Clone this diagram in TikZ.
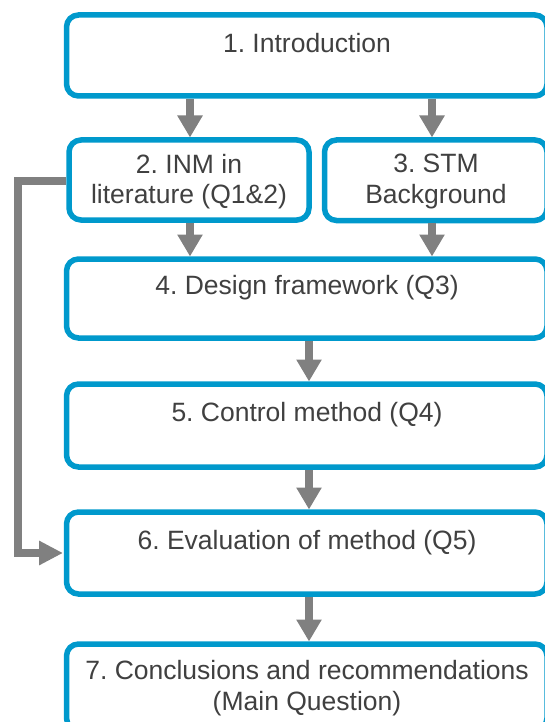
\documentclass[tikz,border=0pt]{standalone}
\usepackage{fontspec}
\setmainfont{Liberation Sans}
\usetikzlibrary{arrows.meta}
\frenchspacing
\definecolor{boxblue}{RGB}{0,153,204}
\definecolor{flowgray}{RGB}{128,128,128}
\definecolor{textgray}{RGB}{64,64,64}
\tikzset{
  stagebox/.style={draw=boxblue, line width=5.5pt, rounded corners=12pt,
    fill=white, inner sep=0pt, outer sep=0pt},
  stagetext/.style={text=textgray, align=center, inner sep=0pt,
    font=\fontsize{26.5pt}{30.5pt}\selectfont},
  flowarrow/.style={draw=flowgray, line width=8pt,
    -{Triangle[length=22pt,width=24pt]}, shorten <=2.75pt, shorten >=2.5pt},
  loopback/.style={draw=flowgray, line width=7.5pt,
    -{Triangle[length=24pt,width=23pt]}, shorten <=2.75pt, shorten >=3.5pt}
}
\begin{document}
\begin{tikzpicture}[x=1pt, y=-1pt]
\useasboundingbox (0,0) rectangle (544,722);

% stage boxes (coordinates of the border centre lines)
\node[stagebox, minimum width=480.5pt, minimum height=81pt] (b1) at (306.75,55.5) {};
\node[stagebox, minimum width=240pt,   minimum height=80pt] (b2) at (189,180) {};
\node[stagebox, minimum width=222.5pt, minimum height=80.5pt] (b3) at (435.75,180.25) {};
\node[stagebox, minimum width=480.5pt, minimum height=79pt] (b4) at (306.75,298.5) {};
\node[stagebox, minimum width=480.5pt, minimum height=83pt] (b5) at (306.75,425.5) {};
\node[stagebox, minimum width=480.5pt, minimum height=82pt] (b6) at (306.75,553) {};
\node[stagebox, minimum width=480.5pt, minimum height=86pt] (b7) at (306.75,687) {};

% stage titles
\node[stagetext] (t1) at (307,43)  {1. Introduction};
\node[stagetext] (t2) at (189,181.5) {2. INM in\\literature (Q1\&2)};
\node[stagetext] (t3) at (436,181.5) {3. STM\\Background};
\node[stagetext] (t4) at (307,288) {4. Design framework (Q3)};
\node[stagetext] (t5) at (307,415) {5. Control method (Q4)};
\node[stagetext] (t6) at (307,543) {6. Evaluation of method (Q5)};
\node[stagetext] (t7) at (307,688) {7. Conclusions and recommendations\\(Main Question)};

% flow between stages
\draw[flowarrow] (b1.south -| 190,0) -- (b2.north -| 190,0);
\draw[flowarrow] (b1.south -| 432,0) -- (b3.north -| 432,0);
\draw[flowarrow] (b2.south -| 190,0) -- (b4.north -| 190,0);
\draw[flowarrow] (b3.south -| 432,0) -- (b4.north -| 432,0);
\draw[flowarrow] (b4.south -| 309,0) -- (b5.north -| 309,0);
\draw[flowarrow] (b5.south -| 309,0) -- (b6.north -| 309,0);
\draw[flowarrow] (b6.south -| 309,0) -- (b7.north -| 309,0);

% literature results feed straight into the evaluation
\coordinate (bend) at (18,181);
\draw[loopback] (b2.west |- bend) -- (bend) |- (b6.west);
\end{tikzpicture}
\end{document}
